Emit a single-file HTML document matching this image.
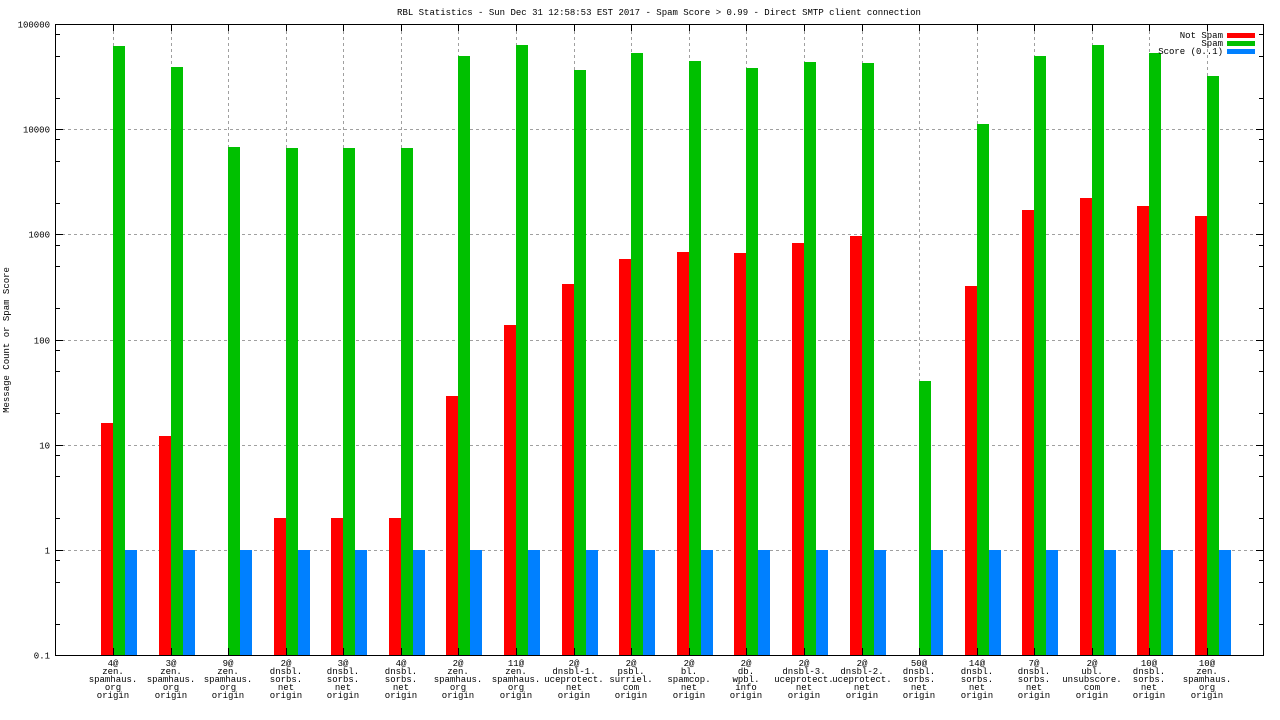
<!DOCTYPE html>
<html><head><meta charset="utf-8"><style>
html,body{margin:0;padding:0;background:#fff;}
svg{display:block;}
text{font-family:"Liberation Mono","DejaVu Sans Mono",monospace;font-size:9px;fill:#000;}
</style></head><body>
<svg width="1280" height="720" xmlns="http://www.w3.org/2000/svg">
<text x="659" y="15" text-anchor="middle">RBL Statistics - Sun Dec 31 12:58:53 EST 2017 - Spam Score &gt; 0.99 - Direct SMTP client connection</text>
<text transform="translate(9,340) rotate(-90)" text-anchor="middle">Message Count or Spam Score</text>
<g id="g"></g>
<g id="b"></g>
<rect x="55.5" y="24.5" width="1208" height="631" fill="none" stroke="#000" stroke-width="1"/>
<g font-size="9">
<text x="1223" y="38" text-anchor="end">Not Spam</text>
<text x="1223" y="46" text-anchor="end">Spam</text>
<text x="1223" y="54" text-anchor="end">Score (0..1)</text>
</g>
<rect x="1227" y="33" width="28" height="5" fill="#ff0000"/>
<rect x="1227" y="41" width="28" height="5" fill="#00c000"/>
<rect x="1227" y="49" width="28" height="5" fill="#0080ff"/>
<script>
var ns="http://www.w3.org/2000/svg",svg=document.querySelector('svg'),G=document.getElementById('g'),B=document.getElementById('b');
function el(t,a,p,txt){var e=document.createElementNS(ns,t);for(var k in a)e.setAttribute(k,a[k]);if(txt!=null)e.textContent=txt;(p||svg).appendChild(e);return e;}
function Y(v){return 550-105.2*Math.log10(v);}
var labs=["100000","10000","1000","100","10","1","0.1"];
for(var d=0;d<=6;d++){var v=Math.pow(10,5-d),y=Math.round(Y(v))+0.5;
 if(d>0&&d<6)el('line',{x1:56,y1:y,x2:1263,y2:y,stroke:'#a0a0a0','stroke-dasharray':'3,3'},G);
 el('line',{x1:56,y1:y,x2:63,y2:y,stroke:'#000'});el('line',{x1:1256,y1:y,x2:1263,y2:y,stroke:'#000'});
 el('text',{x:50,y:y+3,'text-anchor':'end'},null,labs[d]);
 if(d<6)[2,5,8].forEach(function(m){var yy=Math.round(Y(v/10*m))+0.5;el('line',{x1:56,y1:yy,x2:60,y2:yy,stroke:'#000'});el('line',{x1:1259,y1:yy,x2:1263,y2:yy,stroke:'#000'});});
}
var red=[423,436,null,518,518,518,396,325,284,259,252,253,243,236,null,286,210,198,206,216];
var grn=[46,67,147,148,148,148,56,45,70,53,61,68,62,63,381,124,56,45,53,76];
var L=[["4@","zen.","spamhaus.","org","origin"],["3@","zen.","spamhaus.","org","origin"],["9@","zen.","spamhaus.","org","origin"],["2@","dnsbl.","sorbs.","net","origin"],["3@","dnsbl.","sorbs.","net","origin"],["4@","dnsbl.","sorbs.","net","origin"],["2@","zen.","spamhaus.","org","origin"],["11@","zen.","spamhaus.","org","origin"],["2@","dnsbl-1.","uceprotect.","net","origin"],["2@","psbl.","surriel.","com","origin"],["2@","bl.","spamcop.","net","origin"],["2@","db.","wpbl.","info","origin"],["2@","dnsbl-3.","uceprotect.","net","origin"],["2@","dnsbl-2.","uceprotect.","net","origin"],["50@","dnsbl.","sorbs.","net","origin"],["14@","dnsbl.","sorbs.","net","origin"],["7@","dnsbl.","sorbs.","net","origin"],["2@","ubl.","unsubscore.","com","origin"],["10@","dnsbl.","sorbs.","net","origin"],["10@","zen.","spamhaus.","org","origin"]];
for(var i=0;i<20;i++){var t=Math.round(113+57.58*i),tx=t+0.5;
 el('line',{x1:tx,y1:25,x2:tx,y2:655,stroke:'#a0a0a0','stroke-dasharray':'3,3'},G);
 el('line',{x1:tx,y1:24,x2:tx,y2:31,stroke:'#000'});el('line',{x1:tx,y1:648,x2:tx,y2:655,stroke:'#000'});
 if(red[i]!=null)el('rect',{x:t-12,y:red[i],width:12,height:655-red[i],fill:'#ff0000'},B);
 el('rect',{x:t,y:grn[i],width:12,height:655-grn[i],fill:'#00c000'},B);
 el('rect',{x:t+12,y:550,width:12,height:105,fill:'#0080ff'},B);
 for(var k=0;k<5;k++)el('text',{x:t,y:666+k*8,'text-anchor':'middle'},null,L[i][k]);
}
</script>
</svg>
</body></html>
